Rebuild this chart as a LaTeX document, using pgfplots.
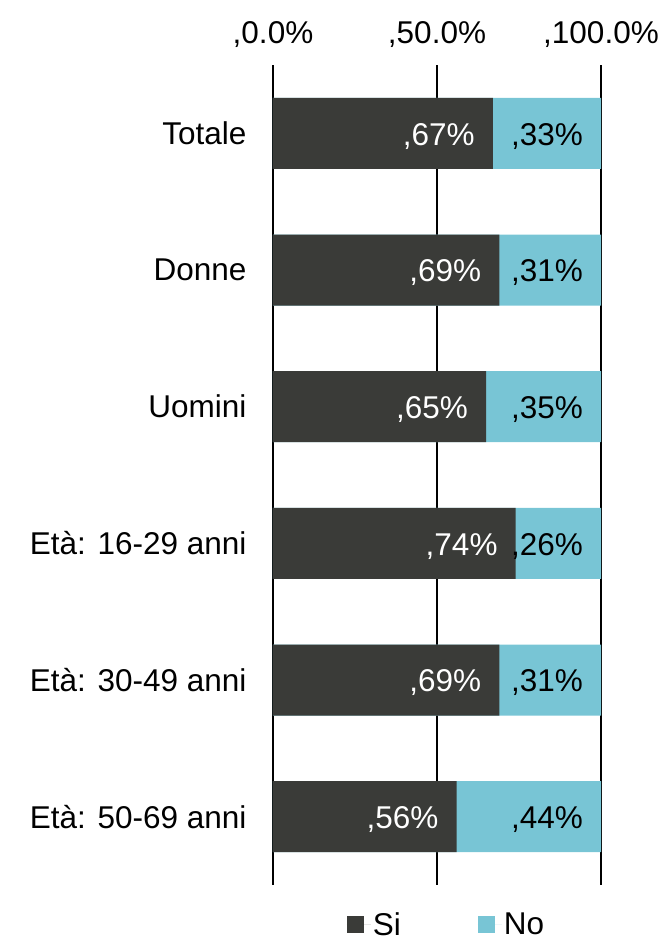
\documentclass[border=0pt]{standalone}
\usepackage{pgfplots}
\pgfplotsset{compat=1.18}
\usepackage{fontspec}
\setmainfont{Liberation Sans}
\definecolor{sicol}{HTML}{3A3B38}
\definecolor{nocol}{HTML}{78C5D5}
\begin{document}
\begin{tikzpicture}[font=\fontsize{31.5}{37}\selectfont]
\path[use as bounding box] (0,0) rectangle (664pt,937pt);
\begin{axis}[
  at={(273pt,52pt)}, anchor=south west,
  scale only axis, width=328pt, height=820pt,
  xbar, bar width=71pt, bar shift=0pt,
  xmin=0, xmax=100, ymin=-0.5, ymax=5.5,
  y dir=reverse,
  axis line style={draw=none},
  major tick length=0pt,
  xtick={0,50,100},
  xticklabels={{,0.0\%},{,50.0\%},{,100.0\%}},
  xticklabel pos=top,
  xticklabel style={yshift=14pt},
  xmajorgrids, grid style={black, line width=1.3pt},
  ytick={0,1,2,3,4,5},
  yticklabels={Totale,Donne,Uomini,{Età: 16-29 anni},{Età: 30-49 anni},{Età: 50-69 anni}},
  yticklabel style={xshift=-23pt},
  /pgf/number format/assume math mode=true,
  point meta=explicit,
  nodes near coords={,\pgfmathprintnumber{\pgfplotspointmeta}\%},
  every node near coord/.append style={anchor=east, xshift=-18pt, yshift=-3pt, inner sep=0pt},
  legend columns=2,
  legend style={draw=none, at={(0.529,-0.048)}, anchor=center, inner sep=0pt,
    /tikz/every even column/.append style={column sep=75pt}},
  legend image code/.code={\fill[#1] (0pt,-9pt) rectangle (17pt,8pt); \path (0pt,0pt) -- (24pt,0pt);},
]
\addlegendimage{fill=sicol, draw=none}
\addlegendentry{Si}
\addlegendimage{fill=nocol, draw=none}
\addlegendentry{No}
% No segment (drawn full length underneath), label = No share
\addplot[fill=nocol, draw=none, forget plot, every node near coord/.append style={text=black}]
  coordinates {(100,0) [33] (100,1) [31] (100,2) [35] (100,3) [26] (100,4) [31] (100,5) [44]};
% Si segment
\addplot[fill=sicol, draw=none, forget plot, every node near coord/.append style={text=white}]
  coordinates {(67,0) [67] (69,1) [69] (65,2) [65] (74,3) [74] (69,4) [69] (56,5) [56]};
\end{axis}
\end{tikzpicture}
\end{document}
